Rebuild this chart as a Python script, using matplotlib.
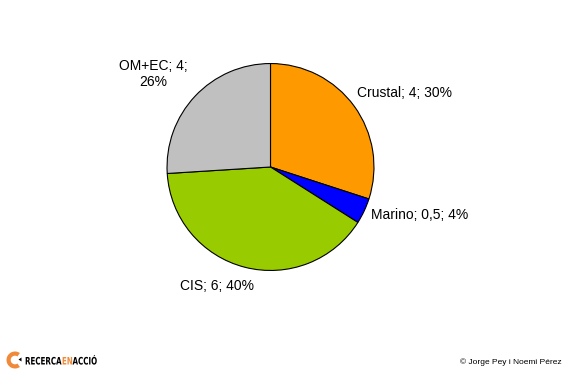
import matplotlib
matplotlib.use('Agg')
import matplotlib.pyplot as plt
from matplotlib.patches import Wedge, Polygon, PathPatch
from matplotlib.textpath import TextPath
from matplotlib.font_manager import FontProperties
from matplotlib.transforms import Affine2D

plt.rcParams['font.family'] = ['Liberation Sans', 'DejaVu Sans']

# data
names = ['Crustal', 'Marino', 'CIS', 'OM+EC']
values = [4, 0.5, 6, 4]
percents = [30, 4, 40, 26]
colors = ['#FF9900', '#0000FF', '#99CC00', '#C0C0C0']

W, H = 575, 375
fig = plt.figure(figsize=(W / 100, H / 100), dpi=100)

# pie: centre (270.5, 167) px, radius 104.5 px
cx, cy, r = 270.5, 167, 104.5
ax = fig.add_axes([(cx - r) / W, (H - cy - r) / H, 2 * r / W, 2 * r / H])
ax.pie(percents, colors=colors, startangle=90, counterclock=False,
       wedgeprops=dict(edgecolor='black', linewidth=0.8))
ax.set_xlim(-1.01, 1.01)
ax.set_ylim(-1.01, 1.01)
ax.axis('off')

# overlay in pixel coords for labels and footer
ov = fig.add_axes([0, 0, 1, 1], zorder=5)
ov.set_xlim(0, W)
ov.set_ylim(H, 0)
ov.axis('off')


def fmt(v):
    return ('%g' % v).replace('.', ',')


labels = ['%s; %s; %d%%' % (n, fmt(v), p) for n, v, p in zip(names, values, percents)]
labels[3] = '%s; %s;\n%d%%' % (names[3], fmt(values[3]), percents[3])

fs = 10
ov.text(357, 93, labels[0], fontsize=fs, ha='left', va='center')
ov.text(371, 215, labels[1], fontsize=fs, ha='left', va='center')
ov.text(217, 286, labels[2], fontsize=fs, ha='center', va='center')
ov.text(153, 74, labels[3], fontsize=fs, ha='center', va='center', linespacing=1.15)

# footer logo
orange = '#F0893A'
ov.add_patch(Wedge((15, 360), 8.5, 55, 305, width=4.2, color=orange, lw=0))
ov.add_patch(Polygon([[18.5, 359.5], [21.5, 357.5], [21.5, 361.5]], closed=True, color='black', lw=0))

fp = FontProperties(family='DejaVu Sans', weight='bold')
x = 25.0
sx = 0.69
for part, col in [('RECERCA', 'black'), ('EN', orange), ('ACCIÓ', 'black')]:
    tp = TextPath((0, 0), part, size=10.3, prop=fp)
    w = tp.get_extents().x1
    tr = Affine2D().scale(sx, -1).translate(x, 364.5) + ov.transData
    ov.add_patch(PathPatch(tp, transform=tr, color=col, lw=0))
    x += (w + 0.6) * sx

ov.text(562, 362, '© Jorge Pey i Noemi Pérez', fontsize=6, ha='right', va='center')

fig.savefig('out.png', dpi=100)
